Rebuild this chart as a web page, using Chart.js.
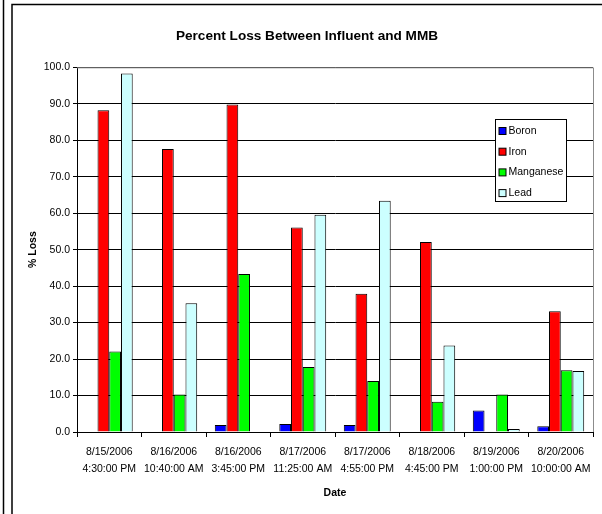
<!DOCTYPE html>
<html>
<head>
<meta charset="utf-8">
<script src="https://cdn.jsdelivr.net/npm/chart.js@4/dist/chart.umd.min.js"></script>
<style>
  html, body { margin: 0; padding: 0; background: #fff; }
  #wrap { position: relative; width: 602px; height: 514px; }
</style>
</head>
<body>
<div id="wrap"><canvas id="c" width="602" height="514"></canvas></div>
<script>
const categories = [
  ["8/15/2006", "4:30:00 PM"],
  ["8/16/2006", "10:40:00 AM"],
  ["8/16/2006", "3:45:00 PM"],
  ["8/17/2006", "11:25:00 AM"],
  ["8/17/2006", "4:55:00 PM"],
  ["8/18/2006", "4:45:00 PM"],
  ["8/19/2006", "1:00:00 PM"],
  ["8/20/2006", "10:00:00 AM"]
];
const seriesNames = ["Boron", "Iron", "Manganese", "Lead"];
const boron     = [0, 0, 1.9, 2.2, 1.9, 0, 5.9, 1.6];
const iron      = [88.2, 77.6, 89.8, 56.1, 37.9, 52.1, 0, 33.1];
const manganese = [22.1, 10.3, 43.3, 17.8, 14.0, 8.3, 10.3, 16.9];
const lead      = [98.3, 35.3, 0, 59.6, 63.4, 23.7, 0.8, 16.7];
const yTicks = [0, 10, 20, 30, 40, 50, 60, 70, 80, 90, 100];

const colors = ["#0000FF", "#FF0000", "#00FF00", "#CCFFFF"];
const values = [boron, iron, manganese, lead];
const FONT = "'Liberation Sans', Arial, sans-serif";

const frame = {
  id: 'frame',
  beforeDraw(chart) {
    const ctx = chart.ctx;
    ctx.save();
    ctx.fillStyle = '#fff';
    ctx.fillRect(0, 0, chart.width, chart.height);
    ctx.strokeStyle = '#000';
    ctx.lineWidth = 1.5;
    ctx.beginPath();
    ctx.moveTo(3.5, 0); ctx.lineTo(3.5, chart.height);
    ctx.moveTo(12, chart.height); ctx.lineTo(12, 4.5); ctx.lineTo(chart.width, 4.5);
    ctx.stroke();
    ctx.restore();
  },
  afterDatasetsDraw(chart) {
    const {ctx, chartArea: a} = chart;
    ctx.save();
    ctx.strokeStyle = '#8c8c8c';
    ctx.lineWidth = 1;
    ctx.beginPath();
    ctx.moveTo(a.left, a.top + 0.5); ctx.lineTo(a.right + 0.5, a.top + 0.5); ctx.lineTo(a.right + 0.5, a.bottom);
    ctx.stroke();
    // legend
    const lx = 495.5, ly = 119.5, lw = 71, lh = 82;
    ctx.fillStyle = '#fff';
    ctx.fillRect(lx, ly, lw, lh);
    ctx.strokeStyle = '#000';
    ctx.strokeRect(lx, ly, lw, lh);
    ctx.font = "10.5px " + FONT;
    ctx.textBaseline = 'middle';
    chart.data.datasets.forEach((ds, i) => {
      const cy = ly + 11.5 + i * 20.7;
      ctx.fillStyle = ds.backgroundColor;
      ctx.fillRect(lx + 3.5, cy - 3.5, 7, 7);
      ctx.strokeStyle = '#000';
      ctx.strokeRect(lx + 3.5, cy - 3.5, 7, 7);
      ctx.fillStyle = '#000';
      ctx.fillText(ds.label, lx + 13, cy);
    });
    ctx.restore();
  }
};

new Chart(document.getElementById('c'), {
  type: 'bar',
  data: {
    labels: categories,
    datasets: seriesNames.map((n, i) => ({
      label: n,
      data: values[i],
      backgroundColor: colors[i],
      borderColor: '#000',
      borderWidth: 1,
      borderSkipped: 'bottom',
      categoryPercentage: 4 / 5.5,
      barPercentage: 1
    }))
  },
  options: {
    responsive: false,
    animation: false,
    devicePixelRatio: 1,
    layout: { padding: { left: 21, right: 9, top: 0, bottom: 0 } },
    plugins: {
      legend: { display: false },
      tooltip: { enabled: false },
      title: {
        display: true,
        text: 'Percent Loss Between Influent and MMB',
        color: '#000',
        font: { family: FONT, size: 13.6, weight: 'bold' },
        padding: { top: 28, bottom: 23 }
      }
    },
    scales: {
      x: {
        grid: { display: true, drawOnChartArea: false, offset: true, tickLength: 5, color: '#000' },
        border: { color: '#000', width: 1 },
        ticks: { color: '#000', font: { family: FONT, size: 10.5, lineHeight: 1.6 }, padding: 7, maxRotation: 0, autoSkip: false },
        title: { display: true, text: 'Date', color: '#000', font: { family: FONT, size: 10.5, weight: 'bold' }, padding: { top: 0, bottom: 15 } },
        afterFit(s) { s.height = 82; }
      },
      y: {
        min: 0, max: 100,
        afterBuildTicks(s) { s.ticks = yTicks.map(v => ({ value: v })); },
        grid: { color: '#000', tickLength: 4 },
        border: { color: '#000', width: 1 },
        ticks: { color: '#000', font: { family: FONT, size: 10.5 }, padding: 3, callback: v => v.toFixed(1) },
        title: { display: true, text: '% Loss', color: '#000', font: { family: FONT, size: 10.5, weight: 'bold' }, padding: { top: 6, bottom: 0 } },
        afterFit(s) { s.width = 56; }
      }
    }
  },
  plugins: [frame]
});
</script>
</body>
</html>
